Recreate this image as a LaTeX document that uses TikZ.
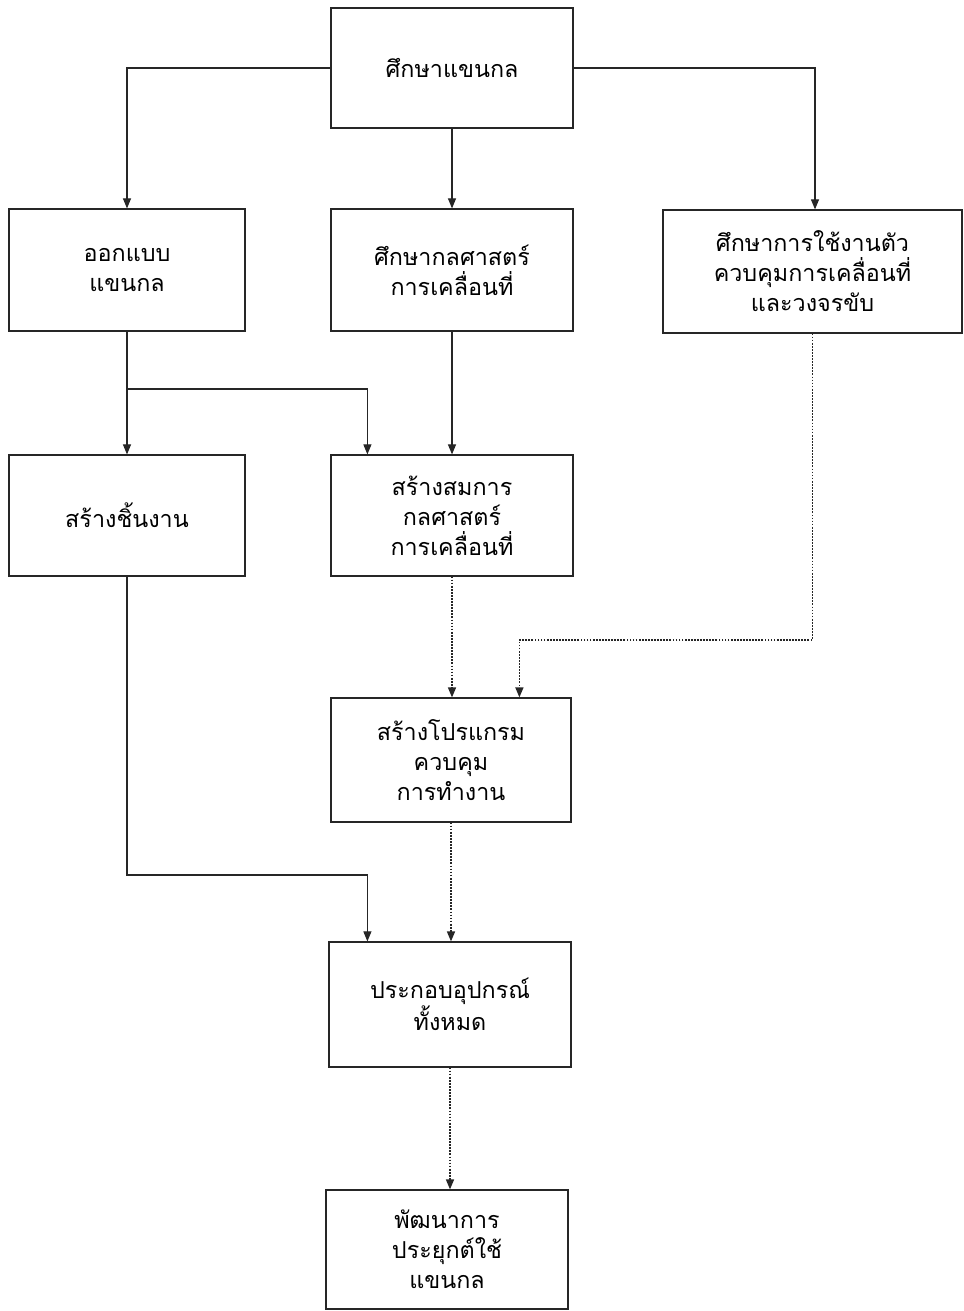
\documentclass[tikz,border=0pt]{standalone}
\usepackage{fontspec}
\newfontfamily\thaifont[Script=Thai]{Loma}
\usetikzlibrary{arrows.meta,calc}
\begin{document}
\begin{tikzpicture}[x=0.75pt,y=-0.75pt,
  box/.style={draw=black!85, line width=0.9pt, align=center, inner sep=0pt,
    font=\thaifont\fontsize{17.5}{22.5}\selectfont},
  sz/.style 2 args={minimum width=#1*0.75pt, minimum height=#2*0.75pt},
  arr/.style={draw=black!85, line width=0.8pt, -{Triangle[length=7.5pt,width=6pt]}},
  dot/.style={line width=1.1pt, dash pattern=on 1.3pt off 1pt}]
\useasboundingbox (0,0) rectangle (964,1311);

\node[box,sz={242}{120}] (b1) at (452,68) {ศึกษาแขนกล};
\node[box,sz={236}{122}] (b2) at (127,270) {ออกแบบ\\แขนกล};
\node[box,sz={242}{122}] (b3) at (452,270) {ศึกษากลศาสตร์\\การเคลื่อนที่};
\node[box,sz={299}{123}] (b4) at (812.5,271.5) {ศึกษาการใช้งานตัว\\ควบคุมการเคลื่อนที่\\และวงจรขับ};
\node[box,sz={236}{121}] (b5) at (127,515.5) {สร้างชิ้นงาน};
\node[box,sz={242}{121}] (b6) at (452,515.5) {สร้างสมการ\\กลศาสตร์\\การเคลื่อนที่};
\node[box,sz={240}{124}] (b7) at (451,760) {สร้างโปรแกรม\\ควบคุม\\การทำงาน};
\node[box,sz={242}{125}] (b8) at (450,1004.5) {ประกอบอุปกรณ์\\ทั้งหมด};
\node[box,sz={242}{119}] (b9) at (447,1249.5) {พัฒนาการ\\ประยุกต์ใช้\\แขนกล};

\coordinate (j1) at (127,389);
\coordinate (j2) at (812.5,640);
\coordinate (j3) at (127,875);

\draw[arr] (b1.west) -| (b2.north);
\draw[arr] (b1.south) -- (b3.north);
\draw[arr] (b1.east) -| ($(b4.north)+(2.5,0)$);
\draw[arr] (b2.south) -- (b5.north);
\draw[arr] (j1) -| ($(b6.north west)+(37,0)$);
\draw[arr] (b3.south) -- (b6.north);
\draw[arr,dot] (b6.south) -- (b6.south |- b7.north);
\draw[arr,dot] (b4.south) -- (j2) -| ($(b7.north west)+(189,0)$);
\draw[arr] (b5.south) -- (j3) -| ($(b8.north west)+(39,0)$);
\draw[arr,dot] (b7.south) -- (b7.south |- b8.north);
\draw[arr,dot] (b8.south) -- (b8.south |- b9.north);
\end{tikzpicture}
\end{document}
